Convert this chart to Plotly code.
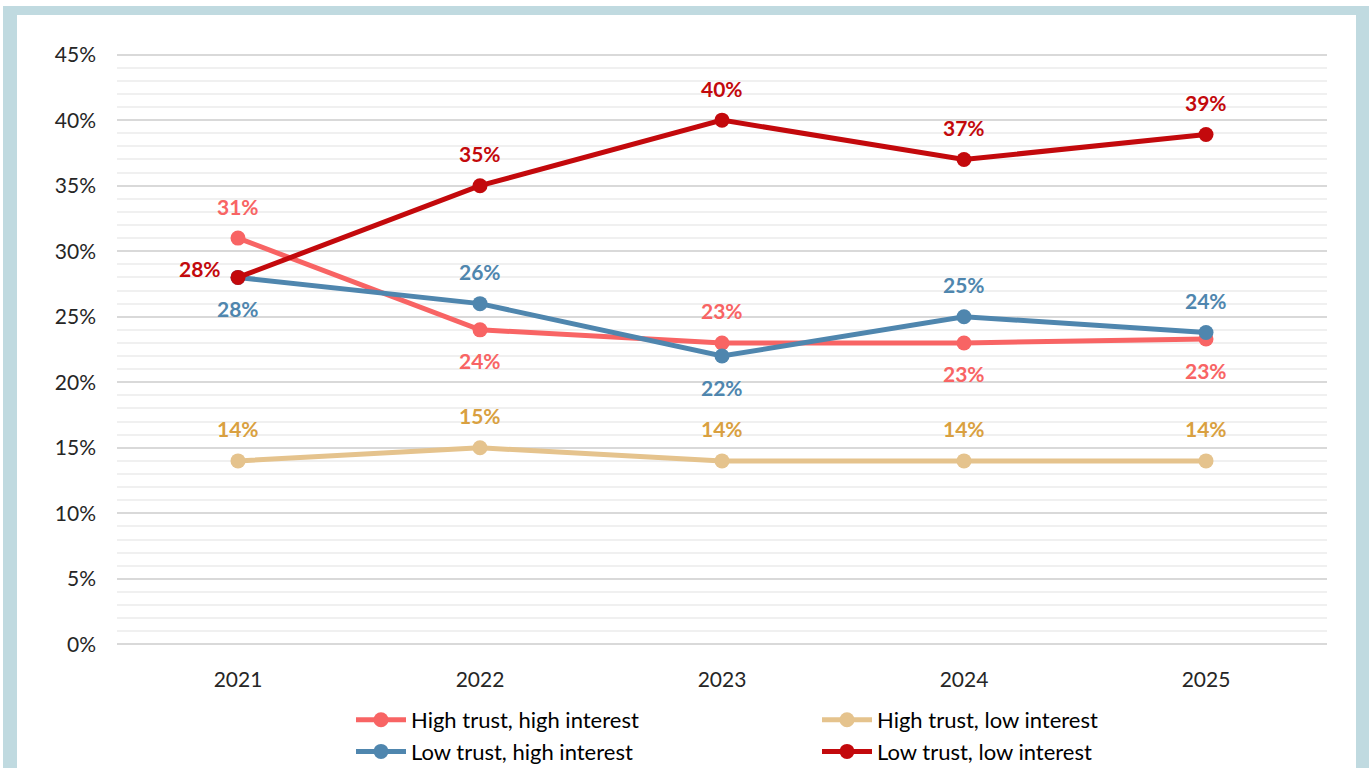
import plotly.graph_objects as go

years = ["2021", "2022", "2023", "2024", "2025"]
series_names = ["High trust, high interest", "Low trust, high interest",
                "High trust, low interest", "Low trust, low interest"]
hthi = [31, 24, 23, 23, 23.3]
lthi = [28, 26, 22, 25, 23.8]
htli = [14, 15, 14, 14, 14]
ltli = [28, 35, 40, 37, 38.9]
values = [hthi, lthi, htli, ltli]
yticks = [0, 5, 10, 15, 20, 25, 30, 35, 40, 45]
ytick_labels = ["0%", "5%", "10%", "15%", "20%", "25%", "30%", "35%", "40%", "45%"]

line_colors = ["#F86464", "#4F86AE", "#E5C38D", "#C3090C"]
label_colors = ["#F86464", "#4F86AE", "#D9A040", "#C3090C"]
legend_ranks = [1, 3, 2, 4]
# label placement relative to point
label_pos = [
    ["up", "down", "up", "down", "down"],
    ["down", "up", "down", "up", "up"],
    ["up", "up", "up", "up", "up"],
    ["left", "up", "up", "up", "up"],
]

FONT = "Lato"
# plot-area geometry (pixels)
PL, PR, PT, PB = 117, 1327, 52, 647
W, H = 1369, 768


def px(x):
    return (x - PL) / (PR - PL)


def py(y):
    return (PB - y) / (PB - PT)


fig = go.Figure()
annotations = []
for name, vals, lc, tc, rk, pos in zip(series_names, values, line_colors, label_colors, legend_ranks, label_pos):
    fig.add_trace(go.Scatter(
        x=years, y=vals, name=name, mode="lines+markers",
        line=dict(color=lc, width=5), marker=dict(color=lc, size=15),
        legendrank=rk, hoverinfo="skip"))
    for i, (yv, p) in enumerate(zip(vals, pos)):
        xs, ys = 0, 0
        if p == "up":
            ys = 32
        elif p == "down":
            ys = -31
        else:
            xs, ys = -38, 9
        annotations.append(dict(
            x=i, y=yv, xref="x", yref="y", text=f"{round(yv)}%", showarrow=False,
            xshift=xs, yshift=ys,
            font=dict(family=FONT, size=21, color=tc, weight="bold")))

shapes = [
    dict(type="rect", xref="paper", yref="paper", layer="below",
         x0=px(3), x1=px(1400), y0=py(820), y1=py(6),
         fillcolor="#C0DAE0", line=dict(width=0)),
    dict(type="rect", xref="paper", yref="paper", layer="below",
         x0=px(17), x1=px(1356), y0=py(820), y1=py(15),
         fillcolor="white", line=dict(width=0)),
]

fig.update_layout(
    width=W, height=H,
    margin=dict(l=PL, r=W - PR, t=PT, b=H - PB, autoexpand=False),
    paper_bgcolor="white", plot_bgcolor="rgba(0,0,0,0)",
    font=dict(family=FONT, size=21, color="#262626"),
    showlegend=True,
    legend=dict(orientation="h", x=px(351), xanchor="left", y=py(699), yanchor="top",
                entrywidth=401, font=dict(family=FONT, size=22, color="#000000"),
                traceorder="normal", itemwidth=50, bgcolor="rgba(0,0,0,0)"),
    annotations=annotations, shapes=shapes,
    xaxis=dict(type="category", range=[-0.5, 4.5], showgrid=False, showline=False, zeroline=False,
               ticks="", ticklabelstandoff=18, tickfont=dict(size=21, color="#262626")),
    yaxis=dict(range=[-0.2, 45.2], tickmode="array", tickvals=yticks, ticktext=ytick_labels,
               showgrid=True, gridcolor="#D9D9D9", gridwidth=1.5, zeroline=False, showline=False,
               ticks="", ticklabelstandoff=20, tickfont=dict(size=21, color="#262626"),
               minor=dict(tickmode="linear", tick0=0, dtick=1, showgrid=True,
                          gridcolor="#F0F0F0", gridwidth=1.5)),
)

fig.write_html("out.html", config={"displayModeBar": False},
               post_script="document.body.style.margin='0';")
